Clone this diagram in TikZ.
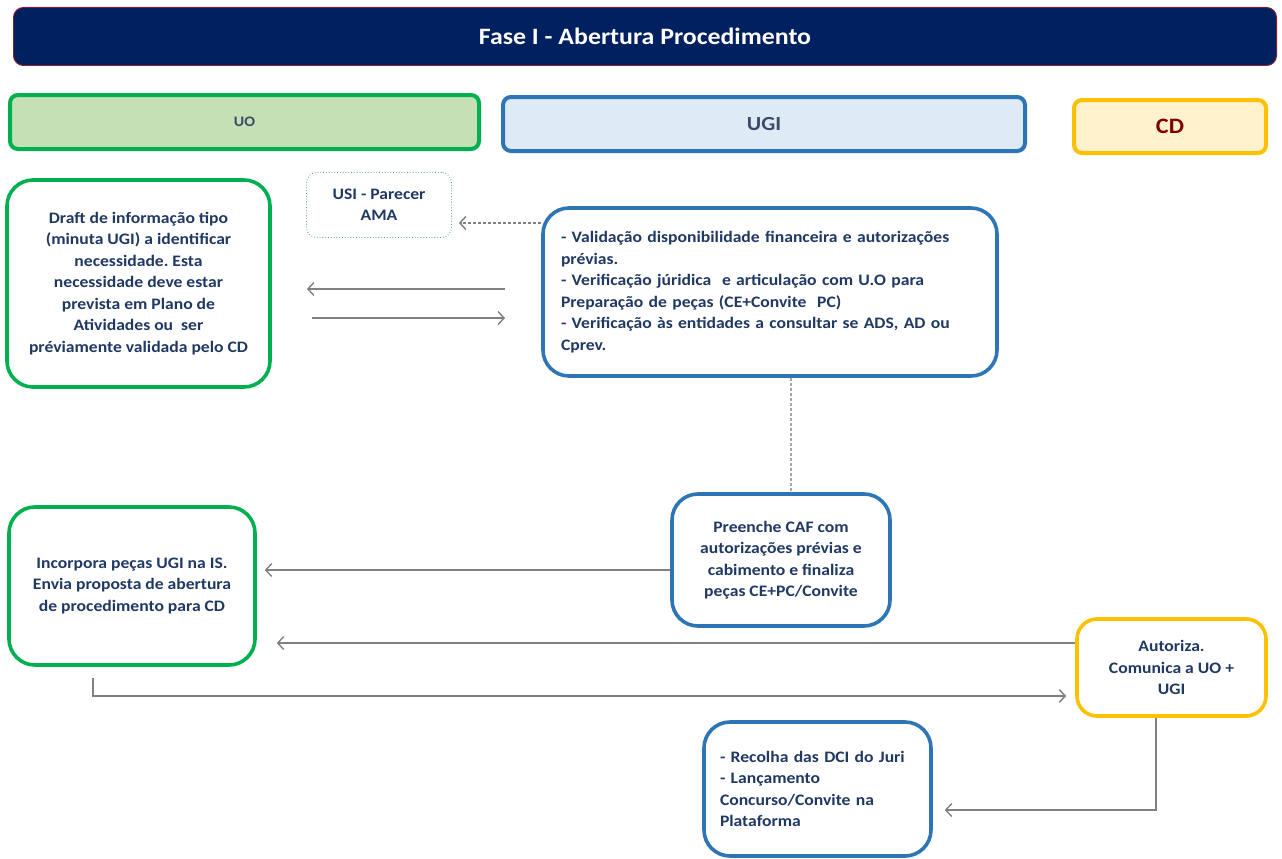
\documentclass[tikz,border=0pt]{standalone}
\usepackage{fontspec}
\setmainfont{Carlito}[FakeStretch=1.1]
\usetikzlibrary{arrows.meta,calc}
\definecolor{navy}{HTML}{002060}
\definecolor{titleedge}{HTML}{7F1F2F}
\definecolor{uogreen}{HTML}{00B050}
\definecolor{uofill}{HTML}{C5E0B4}
\definecolor{ugiblue}{HTML}{2E75B6}
\definecolor{ugifill}{HTML}{DEEBF7}
\definecolor{cdgold}{HTML}{FFC000}
\definecolor{cdfill}{HTML}{FFF2CC}
\definecolor{ink}{HTML}{1F3864}
\definecolor{headink}{HTML}{3B4A66}
\definecolor{cdink}{HTML}{7F0000}
\definecolor{linegray}{HTML}{808080}
\tikzset{
  body/.style={font=\bfseries\fontsize{16}{21.5}\selectfont, text=ink},
  lane/.style={draw, line width=4pt, rounded corners=8pt, inner sep=0pt},
  stepbox/.style={draw, line width=3.6pt, rounded corners=26pt, fill=white,
    inner sep=0pt, align=center, body},
  arr/.style={draw=linegray, line width=1.4pt,
    -{Straight Barb[length=6pt,width=13pt,line width=1.4pt]}},
  dasharr/.style={arr, line width=1.2pt, dash pattern=on 3pt off 2pt},
}
\frenchspacing
\begin{document}
\begin{tikzpicture}[x=1pt,y=-1pt]
\useasboundingbox (0,0) rectangle (1282,859);

% title bar
\node[draw=titleedge, line width=1pt, fill=navy, rounded corners=10pt,
  minimum width=1263pt, minimum height=58pt, inner sep=0pt,
  text=white, font=\bfseries\fontsize{23.5}{28}\selectfont]
  (title) at (645,36.5) {Fase I - Abertura Procedimento};

% lane headers
\node[lane, draw=uogreen, fill=uofill, minimum width=469pt, minimum height=54pt,
  text=headink, font=\bfseries\fontsize{14.5}{18}\selectfont]
  (uo) at (244.5,122) {UO};
\node[lane, draw=ugiblue, fill=ugifill, minimum width=522pt, minimum height=54pt,
  text=headink, font=\bfseries\fontsize{20}{24}\selectfont]
  (ugi) at (764,124) {UGI};
\node[lane, draw=cdgold, fill=cdfill, minimum width=192pt, minimum height=53pt,
  text=cdink, font=\bfseries\fontsize{22}{26}\selectfont]
  (cd) at (1170,126.5) {CD};

% process steps
\node[stepbox, draw=uogreen, minimum width=263pt, minimum height=207pt]
  (draft) at (138.5,283.5)
  {Draft de informação tipo\\(minuta UGI) a identificar\\necessidade. Esta\\necessidade deve estar\\prevista em Plano de\\Atividades ou\ \ ser\\préviamente validada pelo CD};

\node[draw=ugiblue!80, line width=0.8pt, dotted, rounded corners=10pt, fill=white,
  minimum width=145pt, minimum height=65pt, inner sep=0pt, align=center, body]
  (usi) at (379,205) {USI - Parecer\\AMA};

\node[stepbox, draw=ugiblue, minimum width=454pt, minimum height=168pt,
  text width=418pt, align=left, inner xsep=18pt]
  (valid) at (770,292)
  {- Validação disponibilidade financeira e autorizações\\prévias.\\- Verificação júridica\ \ e articulação com U.O para\\Preparação de peças (CE+Convite\ \ PC)\\- Verificação às entidades a consultar se ADS, AD ou\\Cprev.};

\node[stepbox, draw=ugiblue, minimum width=218pt, minimum height=132pt]
  (preenche) at (781,560)
  {Preenche CAF com\\autorizações prévias e\\cabimento e finaliza\\peças CE+PC/Convite};

\node[stepbox, draw=uogreen, minimum width=246pt, minimum height=158pt]
  (incorpora) at (132,586)
  {Incorpora peças UGI na IS.\\Envia proposta de abertura\\de procedimento para CD};

\node[stepbox, draw=cdgold, minimum width=189pt, minimum height=97pt,
  rounded corners=20pt]
  (autoriza) at (1171.5,667.5)
  {Autoriza.\\Comunica a UO +\\UGI};

\node[stepbox, draw=ugiblue, minimum width=227pt, minimum height=134pt,
  text width=195pt, align=left, inner xsep=16pt]
  (recolha) at (817.5,789)
  {- Recolha das DCI do Juri\\- Lançamento\\Concurso/Convite na\\Plataforma};

% free ends of connectors
\coordinate (backstart) at (505,289);
\coordinate (backend)   at (307,289);
\coordinate (fwdstart)  at (312,318);
\coordinate (fwdend)    at (505,318);
\coordinate (sendstart) at (93,678);

% connectors
\draw[dasharr] ($(valid.west)+(0,-69)$) -- ($(usi.east)+(7,18)$);
\draw[arr] (backstart) -- (backend);
\draw[arr] (fwdstart) -- (fwdend);
\draw[draw=linegray!70, line width=1.2pt, dash pattern=on 3pt off 2pt]
  (valid.south -| 791,0) -- (preenche.north -| 791,0);
\draw[arr] (preenche.west |- 0,570) -- ($(incorpora.east)+(8,-16)$);
\draw[arr] (autoriza.west |- 0,643) -- ($(incorpora.east)+(20,57)$);
\draw[arr] (sendstart) -- (sendstart |- 0,696) -- ($(autoriza.west |- 0,696)+(-9,0)$);
\draw[arr] (autoriza.south -| 1156,0) -- (1156,810) -- ($(recolha.east |- 0,810)+(12,0)$);
\end{tikzpicture}
\end{document}
